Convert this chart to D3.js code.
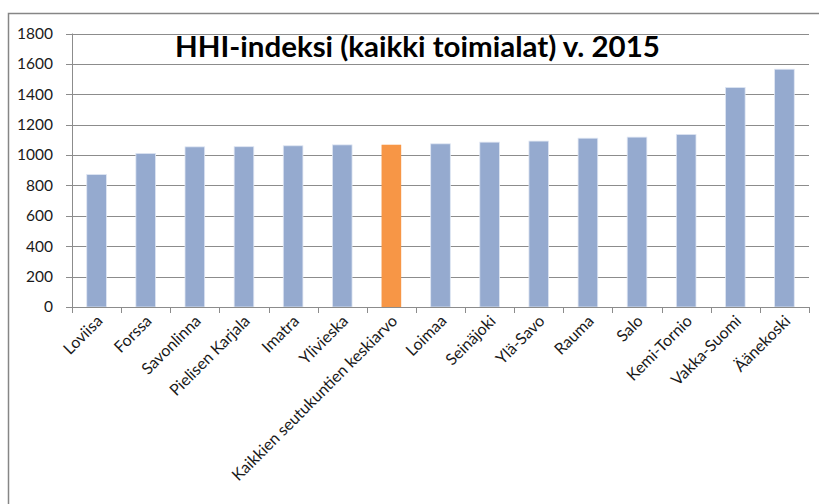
<!DOCTYPE html>
<html><head><meta charset="utf-8">
<script src="https://cdn.jsdelivr.net/npm/d3@7"></script>
<style>html,body{margin:0;padding:0;background:#fff;overflow:hidden}</style>
</head><body><svg id="c" width="819" height="504"></svg>
<script>
const categories = ["Loviisa","Forssa","Savonlinna","Pielisen Karjala","Imatra","Ylivieska","Kaikkien seutukuntien keskiarvo","Loimaa","Seinäjoki","Ylä-Savo","Rauma","Salo","Kemi-Tornio","Vakka-Suomi","Äänekoski"];
const values = [872,1011,1054,1055,1061,1067,1068,1074,1085,1092,1111,1118,1136,1445,1565];
const highlight = "Kaikkien seutukuntien keskiarvo";
const yTicks = [0,200,400,600,800,1000,1200,1400,1600,1800];
const title = "HHI-indeksi (kaikki toimialat) v. 2015";

const svg = d3.select("#c");
const font = "Lato, 'Open Sans', sans-serif";
const L = 72, R = 809, T = 33.5, B = 307;

svg.append("rect").attr("x",8.5).attr("y",13.5).attr("width",840).attr("height",540)
  .attr("fill","#fff").attr("stroke","#868686").attr("stroke-width",1.5);

const x = d3.scaleBand().domain(categories).range([L,R]).paddingInner(0.6).paddingOuter(0.3);
const xb = d3.scaleBand().domain(categories).range([L,R]);
const y = d3.scaleLinear().domain([0,1800]).range([B,T]);

// gridlines
svg.append("g").selectAll("line").data(yTicks).join("line")
  .attr("x1",L-6).attr("x2",R).attr("y1",d=>Math.round(y(d))+0.5).attr("y2",d=>Math.round(y(d))+0.5)
  .attr("stroke","#8c8c8c").attr("stroke-width",1);

// y labels
svg.append("g").selectAll("text").data(yTicks).join("text")
  .attr("x",L-19).attr("y",d=>y(d)).attr("dy","0.35em").attr("text-anchor","end")
  .attr("font-family",font).attr("font-size",15.5).attr("fill","#1a1a1a").text(d=>d);

// bars
svg.append("g").selectAll("rect").data(values).join("rect")
  .attr("x",(d,i)=>x(categories[i])).attr("width",x.bandwidth())
  .attr("y",d=>y(d)).attr("height",d=>B-y(d))
  .attr("fill",(d,i)=>categories[i]===highlight?"#F79646":"#95AACF")
  .attr("stroke",(d,i)=>categories[i]===highlight?"none":"#dfe6f3").attr("stroke-width",0.8);

// axes
svg.append("line").attr("x1",L+0.5).attr("x2",L+0.5).attr("y1",T).attr("y2",B+0.5).attr("stroke","#8c8c8c");
svg.append("line").attr("x1",L).attr("x2",R).attr("y1",B+0.5).attr("y2",B+0.5).attr("stroke","#8c8c8c");
const bounds = categories.map(c=>xb(c)).concat([R]);
svg.append("g").selectAll("line").data(bounds).join("line")
  .attr("x1",d=>Math.round(d)+0.5).attr("x2",d=>Math.round(d)+0.5).attr("y1",B).attr("y2",B+6)
  .attr("stroke","#8c8c8c");

// x labels
svg.append("g").selectAll("text").data(categories).join("text")
  .attr("transform",d=>`translate(${xb(d)+xb.bandwidth()/2+7},${B+15}) rotate(-45)`)
  .attr("text-anchor","end").attr("font-family",font).attr("font-size",16).attr("fill","#1a1a1a").text(d=>d);

// title
const t = svg.append("text").attr("x",417.5).attr("y",57).attr("text-anchor","middle")
  .attr("font-family",font).attr("font-weight","bold").attr("font-size",28).attr("fill","#000").text(title);
const w = t.node().getComputedTextLength();
t.attr("font-size", 28*485/w);
</script></body></html>
